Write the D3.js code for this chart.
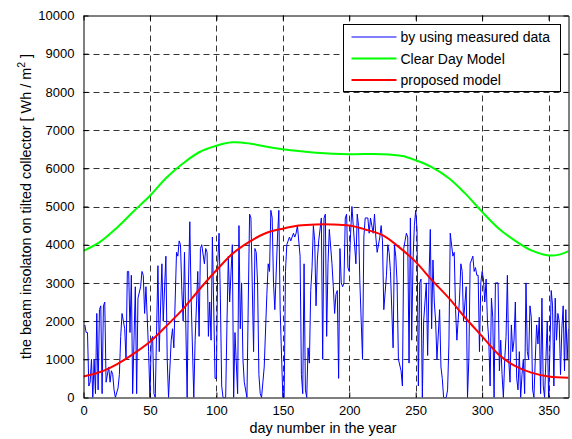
<!DOCTYPE html>
<html>
<head>
<meta charset="utf-8">
<script src="https://cdn.jsdelivr.net/npm/d3@7"></script>
<style>
  body { margin: 0; background: #fff; }
  svg { display: block; font-family: Arial, "Liberation Sans", sans-serif; }
</style>
</head>
<body>
<svg id="chart" width="572" height="439"></svg>
<script>
// axis ticks
var dayTicks = [0, 50, 100, 150, 200, 250, 300, 350];
var whTicks = [0, 1000, 2000, 3000, 4000, 5000, 6000, 7000, 8000, 9000, 10000];

// measured daily beam insolation
var measuredDays = [1,2,3,4,5,6,7,8,9,10,11,12,13,14,15,16,17,19,20,21,22,23,24,26,27,28,29,31,32,33,34,35,36,37,39,40,41,43,44,45,46,47,49,50,51,52,53,54,56,57,59,60,62,63,64,66,67,68,70,71,72,73,74,75,76,78,79,80,81,83,84,86,87,88,89,91,92,93,94,95,96,97,99,100,101,102,103,104,105,107,108,109,110,112,113,114,116,117,118,119,120,121,123,124,125,126,128,129,130,131,132,133,134,136,138,139,140,141,142,143,144,146,147,148,150,151,152,153,155,156,158,159,160,161,163,164,165,166,167,168,169,170,171,172,173,174,175,176,177,179,180,181,182,183,184,185,187,188,189,190,191,192,193,194,195,196,197,198,199,200,201,202,203,205,206,207,208,210,211,212,214,215,216,218,219,220,221,223,224,225,226,228,229,230,231,233,234,235,236,237,239,240,241,242,243,244,245,246,247,248,249,250,251,252,253,254,255,256,258,259,260,261,262,263,264,265,266,268,269,270,271,273,274,275,276,278,279,280,281,283,284,285,286,288,289,290,291,293,294,295,296,297,298,299,300,301,302,303,304,305,306,307,308,309,310,311,312,313,314,315,316,317,318,319,320,321,322,323,324,325,326,327,328,329,330,331,332,333,334,335,336,337,338,339,340,341,342,343,344,345,346,347,349,350,351,352,353,354,355,356,357,358,359,360,361,362,363,364,365];
var measuredWh = [1900,1700,1700,300,400,1000,0,1000,100,2200,200,2300,2400,100,2400,2500,400,800,400,700,600,200,0,250,600,1600,2200,1800,1000,3300,3300,1700,3200,100,2900,100,2600,2900,3300,3200,2200,2900,1200,0,1500,1600,100,0,3450,1200,3500,2000,3700,1000,0,1500,1800,1300,3800,3700,4100,4000,2800,2000,3800,0,3000,4600,2600,0,1500,3300,1600,3900,4000,3500,3900,3800,1600,2500,1500,4200,500,500,3500,4300,2600,300,0,0,2000,3700,2500,4000,0,1700,100,4500,1800,3000,1000,400,0,2500,4800,4700,1200,3900,3800,3000,600,100,0,800,2700,3500,3300,4900,4700,3000,2300,4200,4900,2300,0,0,3300,4000,4200,4100,4300,4200,4300,4500,3700,600,100,3500,200,0,1300,900,2800,3400,4500,4100,2400,3600,4100,4700,1000,4700,4800,1600,3500,4400,3500,2900,2200,2700,2800,500,3900,3000,2900,3000,4700,4800,3400,3300,4300,5000,4500,3500,4800,4500,3000,1000,4200,4700,4700,4300,4700,4300,4800,4200,3800,4200,4500,4100,2300,3200,4000,3800,3300,1300,4000,3700,3000,1000,700,300,3900,4100,4300,4200,900,4700,1500,3600,4500,4900,4400,300,3000,3100,0,2000,3000,1100,3100,4400,1800,3600,2500,2000,1000,2300,800,500,0,0,200,1400,4300,3700,3800,2300,1500,2600,3500,3300,2000,2900,0,1000,3500,3700,3300,3400,3200,3200,1200,3000,3300,3100,2500,3100,2000,1500,300,2600,2100,0,3000,3000,3000,700,1500,600,0,1000,1600,3200,1000,400,1900,1200,1500,2500,500,200,1200,0,600,1000,100,3000,1200,1000,2400,2100,200,0,1000,1900,1400,2100,100,2600,300,0,2000,0,1200,2800,2400,300,2600,1500,2200,2000,600,1800,2400,700,2300,1000,1800];

// clear day model
var clearDays = [0,12,25,37,50,62,75,87,100,112,125,137,150,162,175,200,225,240,250,262,275,287,300,312,325,337,350,358,365];
var clearWh = [3840,4060,4440,4850,5280,5740,6130,6420,6590,6680,6650,6570,6500,6450,6410,6370,6370,6320,6210,6030,5740,5350,4860,4440,4100,3850,3720,3740,3830];

// proposed model
var modelDays = [0,12,25,37,50,62,75,87,100,112,125,137,150,162,175,187,200,212,225,237,250,262,275,287,300,312,325,337,350,365];
var modelWh = [550,660,870,1130,1460,1860,2320,2820,3330,3760,4080,4300,4420,4500,4530,4530,4500,4400,4250,3950,3550,3080,2600,2100,1600,1140,820,650,550,520];

var legendLabels = ["by using measured data", "Clear Day Model", "proposed model"];
var legendColors = ["#0000ff", "#00ff00", "#ff0000"];

var plotL = 83.5, plotR = 568.5, plotT = 15.5, plotB = 397.5;

var svg = d3.select("#chart");

var x = d3.scaleLinear().domain([0, 365]).range([plotL, plotR]);
var y = d3.scaleLinear().domain([0, 10000]).range([plotB, plotT]);

svg.append("rect")
  .attr("x", plotL).attr("y", plotT)
  .attr("width", plotR - plotL).attr("height", plotB - plotT)
  .attr("fill", "#fff");

// grid
var grid = svg.append("g")
  .attr("stroke", "#333")
  .attr("stroke-width", 1)
  .attr("stroke-dasharray", "6,4");

grid.selectAll("line.vx")
  .data(dayTicks.slice(1))
  .enter().append("line")
  .attr("x1", function(d) { return Math.round(x(d)) + 0.5; })
  .attr("x2", function(d) { return Math.round(x(d)) + 0.5; })
  .attr("y1", plotT).attr("y2", plotB);

grid.selectAll("line.hy")
  .data(whTicks.slice(1, -1))
  .enter().append("line")
  .attr("y1", function(d) { return Math.round(y(d)) + 0.5; })
  .attr("y2", function(d) { return Math.round(y(d)) + 0.5; })
  .attr("x1", plotL).attr("x2", plotR);

svg.append("clipPath").attr("id", "clip")
  .append("rect")
  .attr("x", plotL).attr("y", plotT)
  .attr("width", plotR - plotL).attr("height", plotB - plotT);

var plot = svg.append("g").attr("clip-path", "url(#clip)");

var line = d3.line()
  .x(function(d) { return x(d[0]); })
  .y(function(d) { return y(d[1]); });

var smooth = d3.line()
  .curve(d3.curveCatmullRom.alpha(0.5))
  .x(function(d) { return x(d[0]); })
  .y(function(d) { return y(d[1]); });

plot.append("path")
  .datum(d3.zip(measuredDays, measuredWh))
  .attr("fill", "none")
  .attr("stroke", legendColors[0])
  .attr("stroke-width", 1)
  .attr("d", line);

plot.append("path")
  .datum(d3.zip(clearDays, clearWh))
  .attr("fill", "none")
  .attr("stroke", legendColors[1])
  .attr("stroke-width", 2)
  .attr("d", smooth);

plot.append("path")
  .datum(d3.zip(modelDays, modelWh))
  .attr("fill", "none")
  .attr("stroke", legendColors[2])
  .attr("stroke-width", 2)
  .attr("d", smooth);

// axes (ticks inward, mirrored on top/right)
var tickLen = 5;
var fmt = d3.format("d");

svg.append("g")
  .attr("transform", "translate(0," + plotB + ")")
  .call(d3.axisBottom(x).tickValues(dayTicks).tickSizeInner(-tickLen).tickSizeOuter(0).tickPadding(8).tickFormat(fmt));
svg.append("g")
  .attr("transform", "translate(0," + plotT + ")")
  .call(d3.axisTop(x).tickValues(dayTicks).tickSizeInner(-tickLen).tickSizeOuter(0).tickFormat(""));
svg.append("g")
  .attr("transform", "translate(" + plotL + ",0)")
  .call(d3.axisLeft(y).tickValues(whTicks).tickSizeInner(-tickLen).tickSizeOuter(0).tickPadding(9).tickFormat(fmt));
svg.append("g")
  .attr("transform", "translate(" + plotR + ",0)")
  .call(d3.axisRight(y).tickValues(whTicks).tickSizeInner(-tickLen).tickSizeOuter(0).tickFormat(""));

svg.selectAll(".tick text")
  .style("font-size", "13px")
  .style("font-family", "Arial, 'Liberation Sans', sans-serif")
  .attr("fill", "#000");
svg.selectAll(".domain").attr("stroke", "#000");
svg.selectAll(".tick line").attr("stroke", "#000");

// axis labels
svg.append("text")
  .attr("x", (plotL + plotR) / 2 - 3)
  .attr("y", 433)
  .attr("text-anchor", "middle")
  .style("font-size", "14.4px")
  .text("day number in the year");

var ylab = svg.append("text")
  .attr("transform", "translate(31," + ((plotT + plotB) / 2) + ")rotate(-90)")
  .attr("text-anchor", "middle")
  .style("font-size", "14.4px");
ylab.append("tspan").text("the beam insolaton on tilted collector [ Wh / m");
ylab.append("tspan").attr("dy", -6).style("font-size", "10.5px").text("2");
ylab.append("tspan").attr("dy", 6).text(" ]");

// legend
var lg = svg.append("g").attr("transform", "translate(343.5,24.5)");
lg.append("rect")
  .attr("width", 217).attr("height", 67)
  .attr("fill", "#fff").attr("stroke", "#000");

var rows = lg.selectAll("g.row")
  .data(legendLabels)
  .enter().append("g")
  .attr("transform", function(d, i) { return "translate(0," + (12.5 + i * 21.5) + ")"; });

rows.append("line")
  .attr("x1", 8).attr("x2", 53)
  .attr("stroke", function(d, i) { return legendColors[i]; })
  .attr("stroke-width", function(d, i) { return i === 0 ? 1 : 2; });

rows.append("text")
  .attr("x", 57).attr("y", 5)
  .style("font-size", "14px")
  .text(function(d) { return d; });
</script>
</body>
</html>
